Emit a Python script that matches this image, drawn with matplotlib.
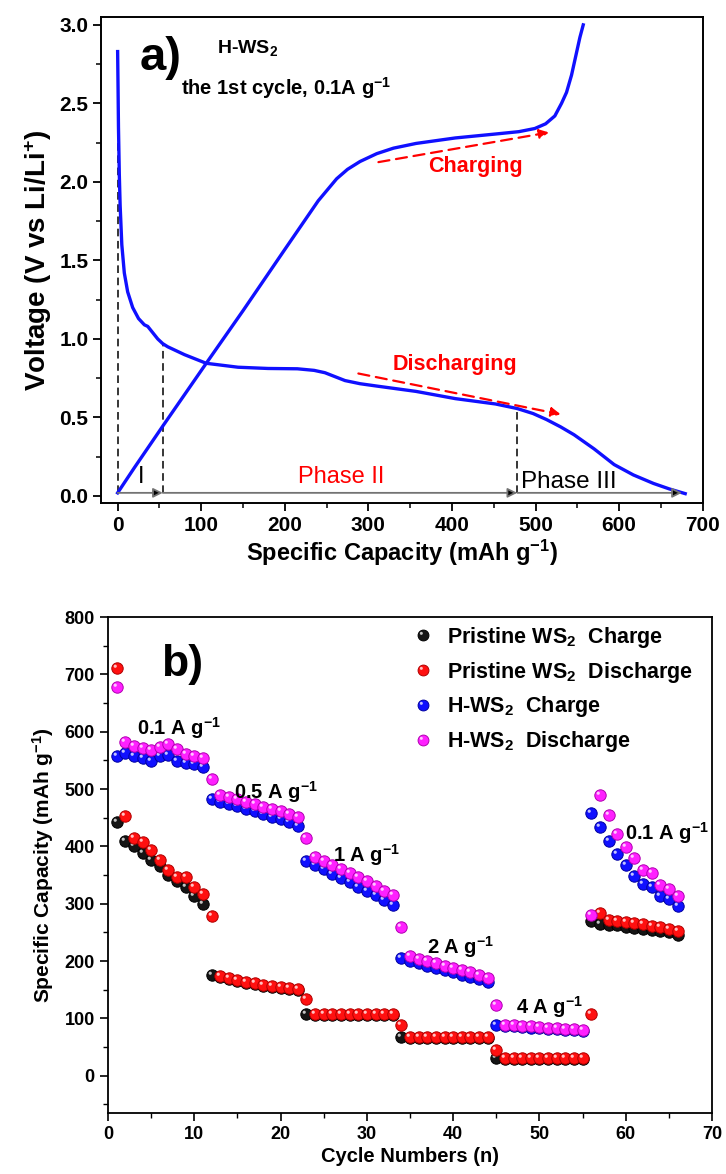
import numpy as np
import matplotlib
matplotlib.use('Agg')
import matplotlib.pyplot as plt
from matplotlib.path import Path
from matplotlib.legend_handler import HandlerTuple
from matplotlib.ticker import MultipleLocator

plt.rcParams['font.family'] = ['Liberation Sans', 'DejaVu Sans']
plt.rcParams['mathtext.fontset'] = 'custom'
plt.rcParams['mathtext.rm'] = 'Liberation Sans:bold'
plt.rcParams['mathtext.it'] = 'Liberation Sans:bold'
plt.rcParams['mathtext.bf'] = 'Liberation Sans:bold'

# ---- panel a: first cycle voltage profile ----
dis_cap = [0, 0.5, 1, 2, 3, 5, 8, 12, 18, 25, 32, 36, 42, 48, 54, 60, 80, 106,
           144, 180, 215, 235, 248, 260, 272, 290, 310, 357, 404, 452, 478, 497,
           513, 530, 546, 570, 594, 617, 641, 660, 679]
dis_v = [2.83, 2.6, 2.35, 2.05, 1.85, 1.6, 1.42, 1.3, 1.2, 1.13, 1.09, 1.08, 1.04,
         1.0, 0.97, 0.95, 0.9, 0.845, 0.82, 0.812, 0.81, 0.80, 0.785, 0.76, 0.735,
         0.715, 0.70, 0.666, 0.62, 0.586, 0.557, 0.525, 0.487, 0.44, 0.39, 0.30,
         0.20, 0.134, 0.08, 0.045, 0.015]
chg_cap = [0, 20, 54, 106, 150, 200, 240, 262, 275, 290, 310, 330, 357, 404, 452,
           480, 499, 512, 523, 531, 537, 543, 548, 553, 557]
chg_v = [0.02, 0.18, 0.445, 0.845, 1.18, 1.57, 1.88, 2.02, 2.08, 2.13, 2.18, 2.215,
         2.245, 2.28, 2.305, 2.32, 2.34, 2.37, 2.42, 2.5, 2.57, 2.68, 2.8, 2.92, 3.0]
phase_x = [0, 54, 478, 675]
phase_top = [2.8, 0.96, 0.557]

# ---- panel b: rate performance ----
cycles = np.arange(1, 67)
pristine_charge = [443, 410, 400, 388, 376, 365, 350, 340, 330, 313, 300,
                   176, 172, 168, 165, 162, 160, 157, 155, 153, 152, 150,
                   107, 106, 106, 106, 106, 106, 106, 106, 106, 106, 106,
                   68, 66, 66, 66, 66, 66, 66, 66, 66, 66, 66,
                   30, 29, 29, 29, 29, 29, 29, 29, 29, 29, 29,
                   269, 265, 263, 262, 260, 258, 256, 254, 252, 250, 246]
pristine_discharge = [712, 453, 415, 408, 393, 376, 358, 346, 347, 330, 317,
                      278, 174, 170, 167, 164, 161, 158, 156, 154, 153, 152,
                      133, 107, 107, 107, 107, 107, 107, 107, 107, 107, 107,
                      88, 67, 67, 67, 67, 67, 67, 67, 67, 67, 67,
                      44, 30, 30, 30, 30, 30, 30, 30, 30, 30, 30,
                      107, 284, 272, 270, 268, 266, 264, 261, 259, 256, 252]
h_charge = [557, 562, 557, 555, 549, 557, 559, 549, 545, 543, 539,
            483, 478, 474, 470, 465, 461, 456, 452, 447, 442, 436,
            375, 368, 360, 352, 345, 338, 330, 322, 315, 307, 298,
            205, 200, 196, 192, 188, 184, 180, 176, 172, 168, 163,
            88, 87, 86, 85, 84, 83, 82, 81, 80, 79, 78,
            458, 434, 409, 386, 367, 349, 334, 330, 314, 308, 296]
h_discharge = [678, 582, 575, 572, 568, 573, 578, 569, 561, 557, 555,
               518, 490, 486, 482, 478, 474, 469, 465, 461, 456, 451,
               414, 382, 375, 368, 361, 354, 347, 339, 331, 323, 315,
               260, 208, 204, 200, 196, 192, 188, 184, 180, 176, 171,
               123, 89, 88, 87, 86, 85, 84, 83, 82, 81, 80,
               280, 490, 455, 421, 399, 379, 358, 353, 333, 325, 314]
rate_labels = ['0.1 A g$^{-1}$', '0.5 A g$^{-1}$', '1 A g$^{-1}$',
               '2 A g$^{-1}$', '4 A g$^{-1}$', '0.1 A g$^{-1}$']
rate_pos = [(8.2, 606), (19.5, 495), (30, 385), (40.8, 225), (51.2, 120), (64.8, 423)]

# highlight marker: small circle up-left of the ball centre
circ = Path.circle((-0.2, 0.2), 0.14)
HL = Path(np.vstack([[[0.5, 0.5], [-0.5, -0.5]], circ.vertices]),
          [Path.MOVETO, Path.MOVETO] + list(circ.codes))


def balls(ax, x, y, color, edge, ms=8.2, z=3):
    b, = ax.plot(x, y, 'o', ms=ms, mfc=color, mec=edge, mew=0.7, zorder=z)
    h, = ax.plot(x, y, ls='none', marker=HL, ms=ms, mfc='white', mec='none',
                 alpha=0.75, zorder=z)
    return (b, h)


fig = plt.figure(figsize=(7.26, 11.74), dpi=100)

# ------------------------- panel a -------------------------
ax1 = fig.add_axes([0.139, 0.5715, 0.829, 0.414])
ax1.plot(dis_cap, dis_v, color='#1010ff', lw=2.4, zorder=3)
ax1.plot(chg_cap, chg_v, color='#1010ff', lw=2.4, zorder=3)

for x, top in zip(phase_x[:3], phase_top):
    ax1.plot([x, x], [0.02, top], color='k', ls=(0, (5, 3)), lw=1.1, zorder=2)
for i in range(3):
    ax1.annotate('', xy=(phase_x[i + 1], 0.02), xytext=(phase_x[i], 0.02),
                 arrowprops=dict(arrowstyle='-|>', fc='k', ec='0.45', lw=1.3,
                                 mutation_scale=14, shrinkA=0, shrinkB=0))

ax1.text(28, 0.12, 'I', fontsize=17, ha='center', va='center')
ax1.text(267, 0.12, 'Phase II', fontsize=17, color='red', ha='center', va='center')
ax1.text(483, 0.09, 'Phase III', fontsize=17.5, color='k', ha='left', va='center')

ax1.annotate('', xy=(516, 2.315), xytext=(312, 2.126),
             arrowprops=dict(arrowstyle='-|>', color='red', lw=1.6, ls=(0, (5, 3)),
                             mutation_scale=14, shrinkA=0, shrinkB=0))
ax1.annotate('', xy=(530, 0.52), xytext=(288, 0.78),
             arrowprops=dict(arrowstyle='-|>', color='red', lw=1.6, ls=(0, (5, 3)),
                             mutation_scale=14, shrinkA=0, shrinkB=0))
ax1.text(428, 2.1, 'Charging', fontsize=15.5, fontweight='bold', color='red',
         ha='center', va='center')
ax1.text(404, 0.84, 'Discharging', fontsize=15.5, fontweight='bold', color='red',
         ha='center', va='center')

ax1.text(26, 2.79, 'a)', fontsize=34, fontweight='bold', ha='left', va='center')
ax1.text(119, 2.85, 'H-WS$_2$', fontsize=14, fontweight='bold', ha='left', va='center')
ax1.text(76, 2.6, 'the 1st cycle, 0.1A g$^{-1}$', fontsize=14.5, fontweight='bold',
         ha='left', va='center')

ax1.set_xlim(-20, 700)
ax1.set_ylim(-0.045, 3.05)
ax1.xaxis.set_major_locator(MultipleLocator(100))
ax1.xaxis.set_minor_locator(MultipleLocator(50))
ax1.yaxis.set_major_locator(MultipleLocator(0.5))
ax1.yaxis.set_minor_locator(MultipleLocator(0.25))
ax1.yaxis.set_major_formatter(plt.FormatStrFormatter('%.1f'))
ax1.tick_params(which='major', length=6, width=1.3, labelsize=15, pad=3)
ax1.tick_params(which='minor', length=3.5, width=1.1)
for t in ax1.get_xticklabels() + ax1.get_yticklabels():
    t.set_fontweight('bold')
ax1.set_xlabel('Specific Capacity (mAh g$^{-1}$)', fontsize=17, fontweight='bold',
               labelpad=2)
ax1.set_ylabel('Voltage (V vs Li/Li$^{+}$)', fontsize=20, fontweight='bold',
               labelpad=4)
for s in ax1.spines.values():
    s.set_linewidth(1.4)

# ------------------------- panel b -------------------------
ax2 = fig.add_axes([0.1488, 0.052, 0.832, 0.4224])
hk = balls(ax2, cycles, pristine_charge, '#151515', 'black', z=3)
hr = balls(ax2, cycles, pristine_discharge, '#ff1010', '#b00000', z=4)
hb = balls(ax2, cycles, h_charge, '#1010ff', '#0000a0', z=5)
hp = balls(ax2, cycles, h_discharge, '#ff20ff', '#b000b0', z=6)

for lab, (x, y) in zip(rate_labels, rate_pos):
    ax2.text(x, y, lab, fontsize=14.5, fontweight='bold', ha='center', va='center',
             zorder=8)
ax2.text(8.6, 718, 'b)', fontsize=32, fontweight='bold', ha='center', va='center')

leg = ax2.legend([hk, hr, hb, hp],
                 ['Pristine WS$_2$  Charge', 'Pristine WS$_2$  Discharge',
                  'H-WS$_2$  Charge', 'H-WS$_2$  Discharge'],
                 handler_map={tuple: HandlerTuple(ndivide=1)},
                 loc='upper left', bbox_to_anchor=(0.503, 0.984), frameon=False,
                 borderaxespad=0, borderpad=0,
                 fontsize=15.5, handlelength=1.0, handletextpad=0.63,
                 labelspacing=0.45, markerscale=0.95)
for t in leg.get_texts():
    t.set_fontweight('bold')

ax2.set_xlim(0, 70)
ax2.set_ylim(-65, 800)
ax2.xaxis.set_major_locator(MultipleLocator(10))
ax2.xaxis.set_minor_locator(MultipleLocator(5))
ax2.yaxis.set_major_locator(MultipleLocator(100))
ax2.yaxis.set_minor_locator(MultipleLocator(50))
ax2.tick_params(which='major', length=6, width=1.2, labelsize=13)
ax2.tick_params(which='minor', length=3.5, width=1.0)
for t in ax2.get_xticklabels() + ax2.get_yticklabels():
    t.set_fontweight('bold')
ax2.set_xlabel('Cycle Numbers (n)', fontsize=14.5, fontweight='bold', labelpad=3)
ax2.set_ylabel('Specific Capacity (mAh g$^{-1}$)', fontsize=15, fontweight='bold',
               labelpad=6)
for s in ax2.spines.values():
    s.set_linewidth(1.3)

fig.savefig('out.png', dpi=100)
